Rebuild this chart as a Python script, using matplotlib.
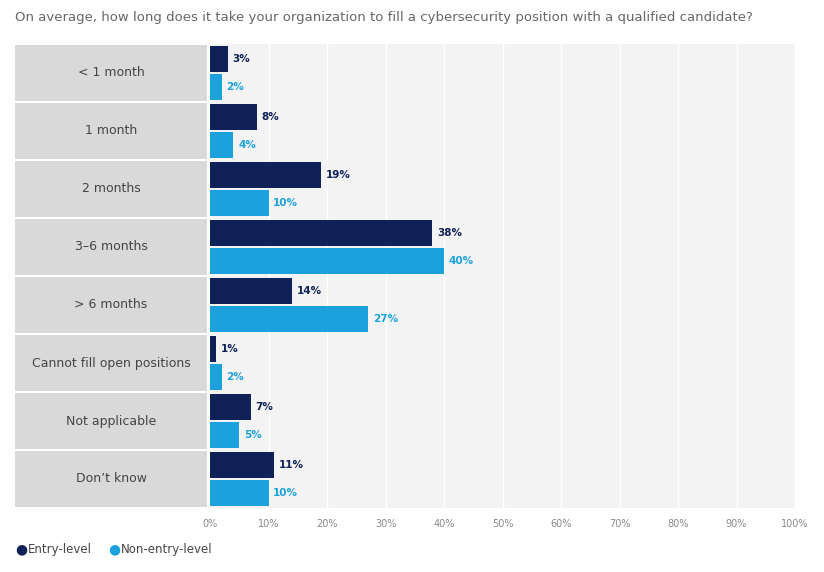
import numpy as np
import matplotlib.pyplot as plt
from matplotlib.patches import Rectangle

categories = ['< 1 month', '1 month', '2 months', '3\u20136 months', '> 6 months',
              'Cannot fill open positions', 'Not applicable', 'Don\u2019t know']
entry = [3, 8, 19, 38, 14, 1, 7, 11]
non_entry = [2, 4, 10, 40, 27, 2, 5, 10]

dark = '#0f2157'
light = '#1ba1dc'

fig = plt.figure(figsize=(8.24, 5.72), dpi=100)
fig.text(15/824, 1 - 18/572, 'On average, how long does it take your organization to fill a cybersecurity position with a qualified candidate?',
         fontsize=9.5, color='#666666', va='center')

bottom = 1 - 508/572
height = 464/572

# category panel
cax = fig.add_axes([15/824, bottom, 192/824, height])
cax.set_xlim(0, 1)
cax.set_ylim(len(categories) - 0.5, -0.5)
cax.axis('off')
for i, c in enumerate(categories):
    cax.add_patch(Rectangle((0, i - 0.48), 1, 0.96, color='#d9d9d9', lw=0))
    cax.text(0.5, i, c, ha='center', va='center', fontsize=9, color='#444444')

ax = fig.add_axes([210/824, bottom, 585/824, height])
ax.set_facecolor('#f3f3f3')
ax.set_xlim(0, 100)
ax.set_ylim(len(categories) - 0.5, -0.5)
y = np.arange(len(categories))
ax.barh(y - 0.24, entry, height=0.46, color=dark, zorder=3)
ax.barh(y + 0.24, non_entry, height=0.46, color=light, zorder=3)
for i in range(len(categories)):
    ax.text(entry[i] + 0.8, i - 0.24, f'{entry[i]}%', va='center', fontsize=7.5, fontweight='bold', color=dark)
    ax.text(non_entry[i] + 0.8, i + 0.24, f'{non_entry[i]}%', va='center', fontsize=7.5, fontweight='bold', color=light)
ax.set_xticks(range(0, 101, 10))
ax.set_xticklabels([f'{v}%' for v in range(0, 101, 10)], fontsize=7, color='#888888')
ax.set_yticks([])
ax.tick_params(axis='x', length=0, pad=8)
ax.grid(axis='x', color='white', lw=1, zorder=1)
for s in ax.spines.values():
    s.set_visible(False)

fig.text(15/824, 1 - 549/572, '\u25cf', color=dark, fontsize=10, va='center')
fig.text(28/824, 1 - 549/572, 'Entry-level', color='#444444', fontsize=8.5, va='center')
fig.text(108/824, 1 - 549/572, '\u25cf', color=light, fontsize=10, va='center')
fig.text(121/824, 1 - 549/572, 'Non-entry-level', color='#444444', fontsize=8.5, va='center')

fig.savefig('out.png', dpi=100, facecolor='white')
